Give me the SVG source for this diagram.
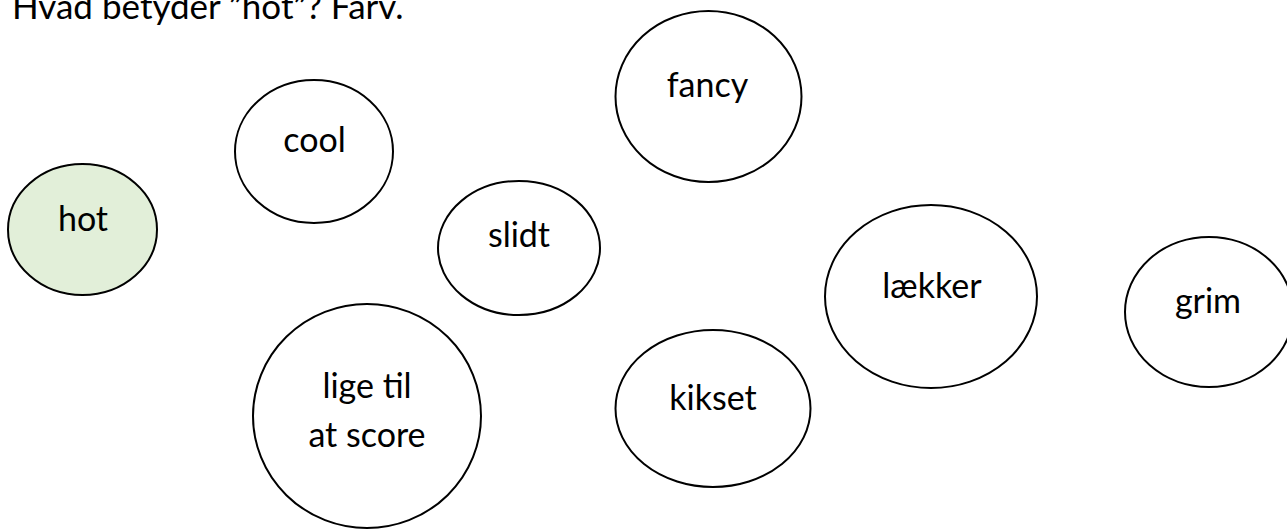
<svg xmlns="http://www.w3.org/2000/svg" width="1287" height="529" viewBox="0 0 1287 529">
<style>
  .n ellipse { fill: #ffffff; stroke: #000000; stroke-width: 2; }
  #hot ellipse { fill: #e2efd9; }
  text { font-family: Lato, "Open Sans", sans-serif; font-size: 34px; fill: #000000; }
  #title { font-size: 35px; }
  .n text { text-anchor: middle; }
</style>
<rect width="1287" height="529" fill="#ffffff"/>
<text id="title" x="12" y="19">Hvad betyder ”hot”? Farv.</text>
<g id="connectors"></g>
<g id="hot" class="n"><ellipse cx="82.5" cy="229.5" rx="74.5" ry="65.5"/><text x="83" y="231">hot</text></g>
<g id="cool" class="n"><ellipse cx="314" cy="151.5" rx="79" ry="71.5"/><text x="314.5" y="152">cool</text></g>
<g id="fancy" class="n"><ellipse cx="708.5" cy="96.5" rx="93" ry="85.5"/><text x="707.5" y="97">fancy</text></g>
<g id="slidt" class="n"><ellipse cx="519" cy="248" rx="81" ry="67"/><text x="519" y="247">slidt</text></g>
<g id="laekker" class="n"><ellipse cx="931" cy="296.5" rx="106" ry="91.5"/><text x="932" y="298">lækker</text></g>
<g id="grim" class="n"><ellipse cx="1209" cy="312" rx="84" ry="75"/><text x="1208" y="313">grim</text></g>
<g id="lige" class="n"><ellipse cx="367" cy="416" rx="114" ry="112"/><text x="367" y="398">lige til</text><text x="367" y="447">at score</text></g>
<g id="kikset" class="n"><ellipse cx="713" cy="408.5" rx="97.5" ry="78.5"/><text x="713" y="410">kikset</text></g>
</svg>
